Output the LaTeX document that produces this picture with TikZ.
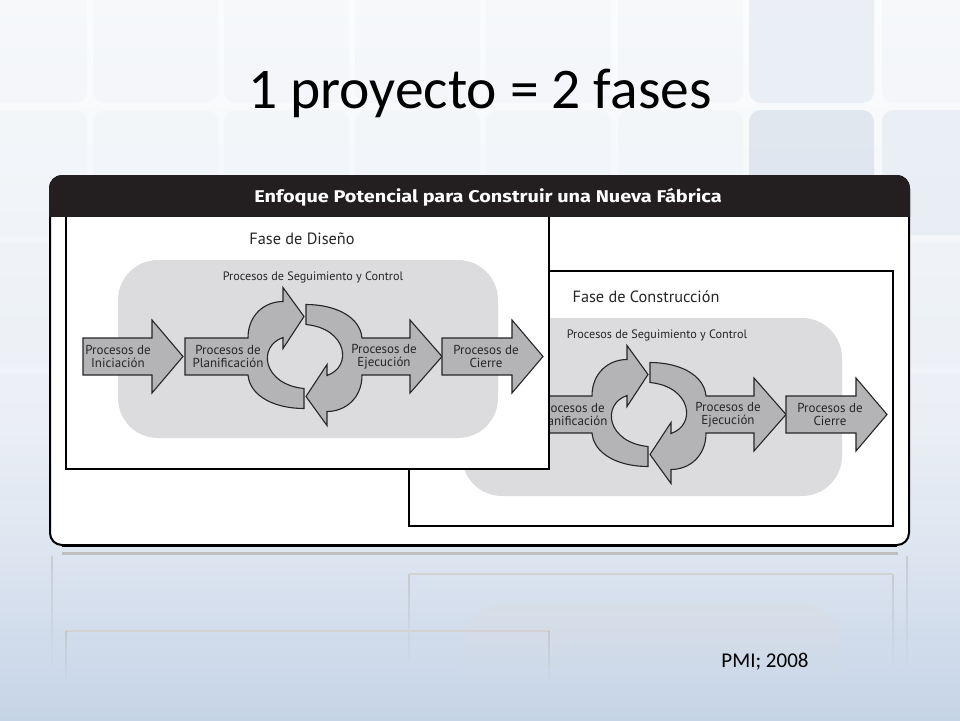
\documentclass[tikz,border=0pt]{standalone}
\usepackage{fontspec}
\setmainfont{Carlito}
\newfontfamily\dgfont{PT Sans}
\newfontfamily\hdfont{Fira Sans}
\definecolor{bgtop}{HTML}{FBFCFD}
\definecolor{bgmid}{HTML}{EEF2F7}
\definecolor{bgbot}{HTML}{C6D4E7}
\definecolor{tilec}{HTML}{D8E1EC}
\definecolor{hdrc}{HTML}{231F20}
\definecolor{areac}{HTML}{DCDCDE}
\definecolor{arrc}{HTML}{B4B4B6}
\definecolor{linec}{HTML}{262626}
\tikzset{
 arr/.style={fill=arrc, draw=linec, line width=1.1pt, line join=miter},
 atext/.style={font=\dgfont\fontsize{13}{13}\selectfont, align=center, text=black!85, inner sep=0pt},
 phtitle/.style={font=\dgfont\fontsize{16.3}{17}\selectfont, text=black!85, inner sep=0pt},
 segtext/.style={font=\dgfont\fontsize{12.2}{13}\selectfont, text=black!85, inner sep=0pt},
 boxline/.style={draw=black, line width=2pt, fill=white},
}
\newcommand{\vrefl}[3]{\foreach \k [evaluate=\k as \op using 0.45*(1-\k/8)] in {0,...,7}{\fill[gray!60, opacity=\op] ({#1-0.75},{#2+(#3-#2)*\k/8}) rectangle ({#1+0.75},{#2+(#3-#2)*(\k+1)/8});}}
\newcommand{\straightarrow}[3]{\filldraw[arr] (#1,-18.5) -- (#2,-18.5) -- (#2,-36.5) -- (#3,0) -- (#2,36.5) -- (#2,18.5) -- (#1,18.5) -- cycle;}
\newcommand{\phasediagram}[4]{%
\begin{scope}[shift={#2}]
 \fill[areac, rounded corners=40] (-187,-96.5) rectangle (193,81.5);
 \node[phtitle] (#1title) at (-3,-117.5) {#3};
 \node[segtext] (#1seg) at (8,-79.5) {Procesos de Seguimiento y Control};
 \ifnum#4=1 \straightarrow{-222}{-153}{-122}\fi
 \filldraw[arr] (-120,-18.5) -- (-57,-18.5) .. controls (-57,-42) and (-40,-55) .. (-22,-55) -- (-22,-69) -- (-1,-40) -- (-22,-8) -- (-22,-19) .. controls (-48,-10) and (-42,28) .. (-1,32) -- (-1,52) .. controls (-30,52) and (-55,40) .. (-57,18.5) -- (-120,18.5) -- cycle;
 \begin{scope}[rotate=180]
 \filldraw[arr] (-105,-18.5) -- (-57,-18.5) .. controls (-57,-42) and (-40,-55) .. (-22,-55) -- (-22,-69) -- (-1,-40) -- (-22,-8) -- (-22,-19) .. controls (-48,-10) and (-42,28) .. (-1,32) -- (-1,52) .. controls (-30,52) and (-55,40) .. (-57,18.5) -- (-105,18.5) -- (-105,36.5) -- (-137,0) -- (-105,-36.5) -- cycle;
 \end{scope}
 \straightarrow{137}{207}{238}
 \ifnum#4=1 \node[atext] (#1ini) at (-187,0) {Procesos de\\Iniciación};\fi
 \node[atext] (#1pla) at (-77,0) {Procesos de\\Planificación};
 \node[atext] (#1eje) at (79,0) {Procesos de\\Ejecución};
 \node[atext] (#1cie) at (181,0) {Procesos de\\Cierre};
\end{scope}}
\begin{document}
\begin{tikzpicture}[x=1pt,y=-1pt]
\useasboundingbox (0,0) rectangle (960,720);
\shade[top color=bgtop, bottom color=bgmid] (0,0) rectangle (960,420);
\shade[top color=bgmid, bottom color=bgbot] (0,420) rectangle (960,720);
\foreach \cx in {-38,93,224,355,486,618,749,882}
  \foreach \cy in {-22,110,242,374}
    \fill[tilec, opacity=0.12, rounded corners=12] (\cx,\cy) rectangle ++(125,125);
\fill[tilec, opacity=0.35, rounded corners=12] (749,-22) rectangle ++(125,125);
\fill[tilec, opacity=0.7, rounded corners=12] (749,110) rectangle ++(125,125);
\fill[tilec, opacity=0.3, rounded corners=12] (882,110) rectangle ++(125,125);
% reflection
\begin{scope}
\clip[rounded corners=40] (462,604) rectangle (842,760);
\foreach \k [evaluate=\k as \op using 0.35*(1-\k/10)] in {0,...,9}
  \fill[areac, opacity=\op] (462,{604+\k*8}) rectangle (842,{612+\k*8});
\end{scope}
\vrefl{52}{556}{665}
\vrefl{907}{556}{665}
\vrefl{409}{574}{660}
\vrefl{893}{574}{665}
\draw[gray!35, line width=1.5pt] (409,574) -- (893,574);
\draw[gray!35, line width=1.5pt] (66,631) -- (549,631);
\vrefl{66}{631}{680}
\vrefl{549}{631}{680}
% shadow line
\draw[line width=3pt, gray!50] (62,553) -- (898,553);
% frame
\filldraw[fill=white, draw=black, line width=2pt, rounded corners=12] (50,176) rectangle (909,545);
\draw[line width=3pt] (62,545) -- (897,545);
% construction phase
\filldraw[boxline] (409,271) rectangle (893,526);
\phasediagram{c}{(649,414.5)}{Fase de Construcción}{0}
% design phase
\filldraw[boxline] (66,200) rectangle (549,469);
\phasediagram{d}{(305,356.5)}{Fase de Diseño}{1}
% header
\begin{scope}
\clip (40,160) rectangle (920,216);
\fill[hdrc, rounded corners=14] (49,175) rectangle (910,240);
\end{scope}
\node[font=\hdfont\bfseries\fontsize{17}{18}\selectfont, text=white, inner sep=0pt] (hdr) at (488,197) {\scalebox{1.17}[1]{Enfoque Potencial para Construir una Nueva Fábrica}};
% titles
\node[font=\fontsize{57.5}{60}\selectfont, anchor=base, inner sep=0pt] (title) at (480,108) {1 proyecto = 2 fases};
\node[font=\fontsize{21}{24}\selectfont, anchor=base, inner sep=0pt] (src) at (765,667) {PMI; 2008};
\end{tikzpicture}
\end{document}
